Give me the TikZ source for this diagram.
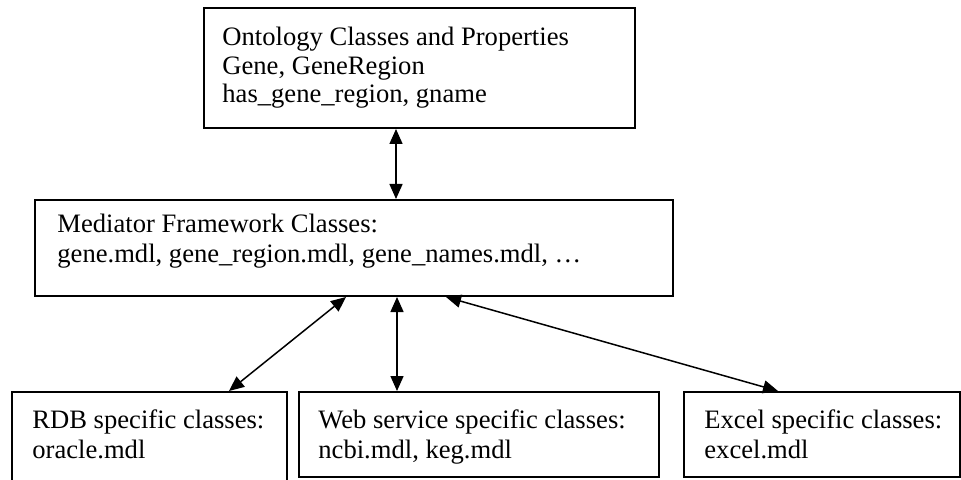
\documentclass[tikz,border=0pt]{standalone}
\usepackage{fontspec}
\setmainfont{Liberation Serif}
\usetikzlibrary{arrows.meta, positioning, calc}

\begin{document}
\begin{tikzpicture}[x=0.5pt, y=-0.5pt,
    classbox/.style={draw, line width=1pt, inner sep=0pt, anchor=north west},
    boxtext/.style={inner sep=0pt, anchor=north west, align=left,
        font=\fontsize{13.3}{15}\selectfont},
    link/.style={{Triangle[length=7.5pt, width=6.5pt]}-{Triangle[length=7.5pt, width=6.5pt]}, line width=0.75pt}]
    \useasboundingbox (0,0) rectangle (961,480);

    % boxes
    \node[classbox, minimum width=215.5pt, minimum height=60pt] (onto) at (203,7) {};
    \node[classbox, minimum width=319pt, minimum height=48pt] (medi) at (34,199) {};
    \node[classbox, minimum width=137.5pt, minimum height=46.5pt] (rdb) at (11,391) {};
    \node[classbox, minimum width=180pt, minimum height=42.5pt] (web) at (298,391) {};
    \node[classbox, minimum width=138pt, minimum height=42.5pt] (excel) at (683,391) {};

    % texts
    \node[boxtext, font=\fontsize{13.3}{14.25}\selectfont] (ontotext) at (222,27)
        {Ontology Classes and Properties\\Gene, GeneRegion\\has\_gene\_region, gname};
    \node[boxtext] (meditext) at (57,214)
        {Mediator Framework Classes:\\gene.mdl, gene\_region.mdl, gene\_names.mdl, \dots};
    \node[boxtext] (rdbtext) at (32,409) {RDB specific classes:\\oracle.mdl};
    \node[boxtext] (webtext) at (318,409) {Web service specific classes:\\ncbi.mdl, keg.mdl};
    \node[boxtext] (exceltext) at (704,409) {Excel specific classes:\\excel.mdl};

    % links
    \draw[link] ([xshift=-11.75pt]onto.south) -- ([xshift=-11.75pt]onto.south |- medi.north);
    \draw[link] ([xshift=-4pt]medi.south) -- ([xshift=39.75pt]rdb.north);
    \draw[link] ([xshift=21.5pt]medi.south) -- ([xshift=-41pt]web.north);
    \draw[link] ([xshift=46pt]medi.south) -- ([xshift=-22pt]excel.north);
\end{tikzpicture}
\end{document}
